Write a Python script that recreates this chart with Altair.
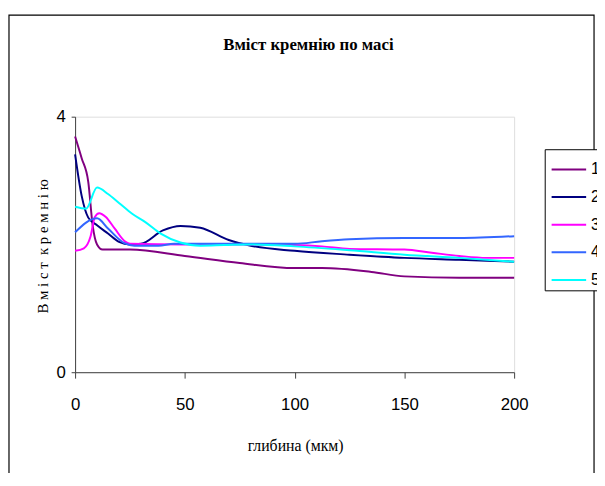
import altair as alt
import pandas as pd

# ---- data ----
series_names = ["1", "2", "3", "4", "5"]
series_colors = ["#800080", "#000080", "#FF00FF", "#3366FF", "#00FFFF"]

depth_1 = [0, 3, 6, 8, 10, 12.5, 25, 50, 75, 100, 112.5, 135, 150, 175, 200]
si_1 = [3.69, 3.35, 2.98, 2.30, 2.00, 1.92, 1.92, 1.82, 1.71, 1.63, 1.63, 1.57, 1.50, 1.48, 1.48]

depth_2 = [0, 3, 6, 10, 15, 20, 25, 30, 40, 48, 57, 70, 80, 100, 125, 150, 175, 200]
si_2 = [3.41, 2.76, 2.42, 2.30, 2.17, 2.04, 2.00, 2.01, 2.22, 2.29, 2.26, 2.07, 1.98, 1.90, 1.84, 1.79, 1.76, 1.73]

depth_3 = [0, 4, 7, 9, 11, 14, 18, 23, 25, 50, 75, 100, 112.5, 125, 150, 162.5, 175, 187.5, 200]
si_3 = [1.90, 1.94, 2.12, 2.43, 2.49, 2.43, 2.25, 2.04, 2.01, 2.00, 2.00, 1.99, 1.97, 1.93, 1.92, 1.87, 1.82, 1.79, 1.79]

depth_4 = [0, 10, 15, 22.5, 27, 38, 45, 75, 100, 112.5, 125, 150, 175, 200]
si_4 = [2.19, 2.41, 2.25, 2.02, 1.98, 1.98, 2.01, 2.01, 2.01, 2.05, 2.08, 2.10, 2.10, 2.13]

depth_5 = [0, 5, 10, 15, 20, 26, 32, 39, 48, 57, 68, 80, 100, 125, 150, 175, 200]
si_5 = [2.59, 2.56, 2.89, 2.79, 2.65, 2.48, 2.35, 2.17, 2.03, 1.98, 1.99, 2.00, 1.97, 1.91, 1.84, 1.79, 1.73]

x_ticks = [0, 50, 100, 150, 200]
y_ticks = [0, 4]

title_text = "Вміст кремнію по масі"
x_title = "глибина (мкм)"
y_title = "В м і с т\u00a0 к р е м н і ю"

rows = []
for name, ds, vs in zip(series_names,
                        [depth_1, depth_2, depth_3, depth_4, depth_5],
                        [si_1, si_2, si_3, si_4, si_5]):
    for d, v in zip(ds, vs):
        rows.append({"series": name, "depth": d, "si": v})
df = pd.DataFrame(rows)

SANS = "Liberation Sans Narrow, Arial Narrow, Liberation Sans, Arial, sans-serif"
SERIF = "Liberation Serif, Times New Roman, serif"

PLOT_W = 445
PLOT_H = 259

lines = alt.Chart(df).mark_line(strokeWidth=2, interpolate="monotone").encode(
    x=alt.X(
        "depth:Q",
        scale=alt.Scale(domain=[0, 200], nice=False, zero=False),
        axis=alt.Axis(
            values=x_ticks, title=x_title, grid=False, format="d",
            labelFont=SANS, labelFontSize=17, labelColor="black",
            labelPadding=19, tickSize=6, tickColor="#404040",
            domainColor="#404040", labelFlush=False,
            titleFont=SERIF, titleFontSize=16, titleFontWeight="normal",
            titleColor="black", titleX=223, titleY=74,
            titleBaseline="middle", titleAlign="center",
        ),
    ),
    y=alt.Y(
        "si:Q",
        scale=alt.Scale(domain=[0, 4], nice=False),
        axis=alt.Axis(
            values=y_ticks, title=y_title, grid=False, format="d",
            labelFont=SANS, labelFontSize=17, labelColor="black",
            labelPadding=6, tickSize=4, tickColor="#404040",
            domainColor="#404040", labelFlush=False,
            titleFont=SERIF, titleFontSize=15, titleFontWeight="normal",
            titleColor="black", titleX=-33, titleY=131,
            titleBaseline="middle", titleAlign="center", titleAngle=270,
        ),
    ),
    color=alt.Color(
        "series:N",
        scale=alt.Scale(domain=series_names, range=series_colors),
        legend=alt.Legend(
            title=None, orient="none", legendX=476, legendY=33,
            symbolType="stroke", symbolSize=1225, symbolStrokeWidth=2,
            symbolOffset=4, labelOffset=4,
            labelFont=SANS, labelFontSize=16, labelColor="black",
            strokeColor="black", fillColor="white",
            padding=2, rowPadding=1,
        ),
    ),
)

frame = alt.Chart(alt.Data(values=[{"f": 1}])).mark_rect(
    fillOpacity=0, stroke="black", strokeWidth=1.2
).encode(
    x=alt.value(-67), x2=alt.value(526), y=alt.value(-103), y2=alt.value(420)
)

chart = alt.layer(frame, lines).properties(
    width=PLOT_W,
    height=PLOT_H,
    title=alt.TitleParams(
        title_text, font=SERIF, fontSize=17, fontWeight="bold", color="black",
        anchor="middle", dx=14, offset=0, dy=40,
    ),
    autosize=alt.AutoSizeParams(type="none"),
    padding={"left": 68, "top": 107, "right": 84, "bottom": 99},
).configure_view(stroke=None).configure(background="white")

chart.save("out.html", embed_options={"renderer": "svg", "actions": False})
